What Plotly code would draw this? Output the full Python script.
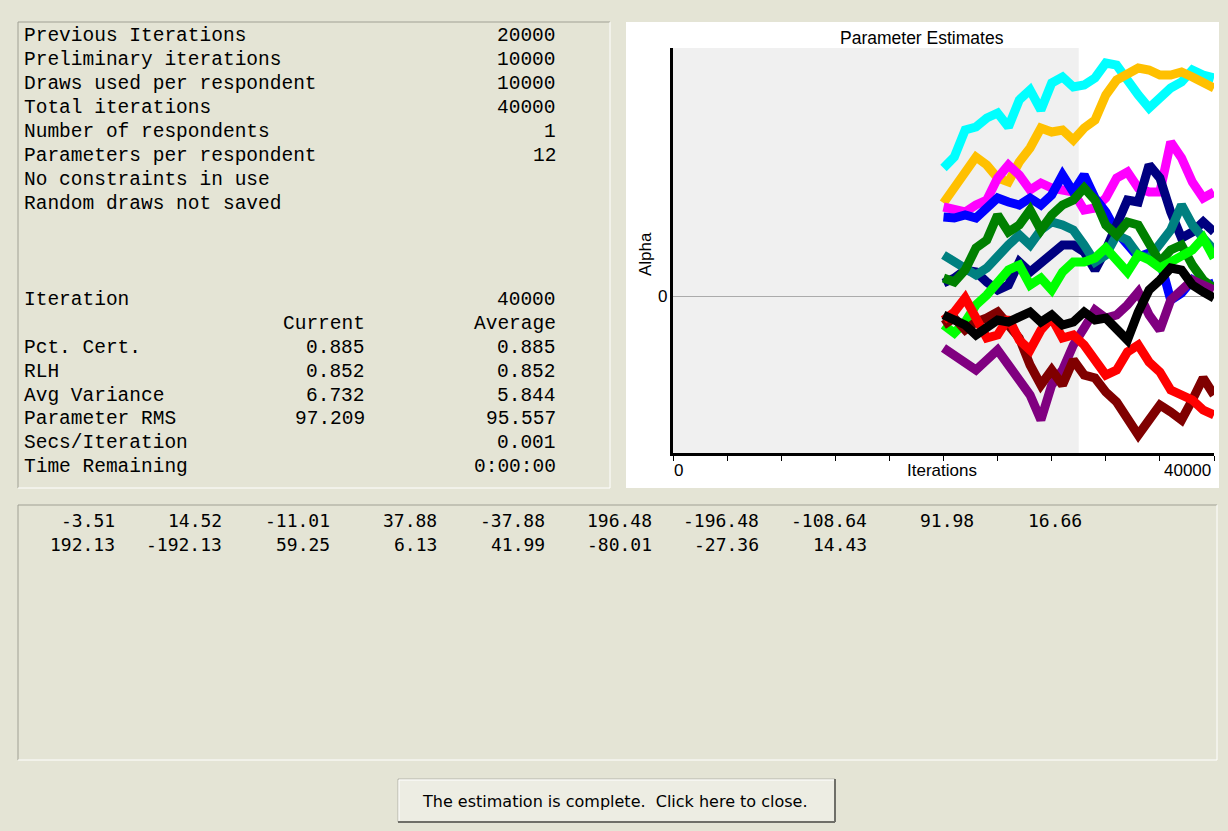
import plotly.graph_objects as go

W, H = 1228, 831

# ---- run summary (left panel) ----
SETTING_LABELS = ["Previous Iterations", "Preliminary iterations", "Draws used per respondent",
                  "Total iterations", "Number of respondents", "Parameters per respondent",
                  "No constraints in use", "Random draws not saved"]
SETTING_VALUES = ["20000", "10000", "10000", "40000", "1", "12", "", ""]

ITERATION_NOW = "40000"
STAT_LABELS = ["Pct. Cert.", "RLH", "Avg Variance", "Parameter RMS", "Secs/Iteration", "Time Remaining"]
STAT_CURRENT = ["0.885", "0.852", "6.732", "97.209", "", ""]
STAT_AVERAGE = ["0.885", "0.852", "5.844", "95.557", "0.001", "0:00:00"]

# ---- current estimates (bottom panel) ----
ESTIMATES = [-3.51, 14.52, -11.01, 37.88, -37.88, 196.48, -196.48, -108.64, 91.98, 16.66,
             192.13, -192.13, 59.25, 6.13, 41.99, -80.01, -27.36, 14.43]

# ---- parameter traces ----
ITERATIONS = [20000, 20800, 21600, 22400, 23200, 24000, 24800, 25600, 26400, 27200,
              28000, 28800, 29600, 30400, 31200, 32000, 32800, 33600, 34400, 35200,
              36000, 36800, 37600, 38400, 39200, 40000]

PARAM_01 = [128, 139, 166, 169, 178, 183, 169, 196, 206, 186, 213, 219, 209, 211, 218, 233, 231, 214, 201, 188, 198, 208, 214, 226, 221, 218]
PARAM_02 = [93, 108, 123, 139, 131, 118, 114, 134, 148, 168, 164, 166, 156, 168, 176, 201, 216, 221, 228, 226, 221, 221, 224, 219, 213, 208]
PARAM_03 = [89, 86, 84, 91, 96, 118, 131, 121, 106, 113, 108, 106, 104, 86, 88, 98, 118, 124, 108, 104, 104, 154, 138, 114, 98, 104]
PARAM_04 = [79, 78, 81, 78, 88, 98, 94, 91, 98, 91, 101, 121, 104, 121, 98, 84, 64, 51, 39, 43, 36, -4, 3, 16, 9, 13]
PARAM_05 = [13, 18, 26, 24, 14, 6, 11, 34, 24, 34, 41, 51, 51, 44, 26, 46, 71, 96, 94, 131, 118, 84, 58, 64, 74, 64]
PARAM_06 = [41, 34, 28, 21, 28, 41, 51, 61, 51, 66, 74, 71, 66, 51, 34, 41, 61, 56, 41, 38, 51, 66, 91, 71, 58, 46]
PARAM_07 = [18, 14, 26, 48, 56, 81, 64, 71, 86, 66, 81, 91, 96, 108, 96, 71, 61, 74, 71, 51, 34, 46, 51, 31, 16, 8]
PARAM_08 = [-29, -37, -26, -9, 1, 14, 26, 31, 11, 18, 6, 24, 34, 34, 38, 48, 36, 24, 41, 36, 28, 34, 38, 46, 58, 38]
PARAM_09 = [-52, -59, -66, -74, -64, -54, -69, -84, -99, -124, -89, -74, -49, -32, -14, -22, -19, -9, 4, -19, -34, -4, 6, 16, 11, 6]
PARAM_10 = [-29, -22, -34, -26, -22, -16, -29, -42, -69, -89, -74, -89, -64, -79, -82, -96, -106, -122, -139, -124, -109, -116, -124, -104, -82, -99]
PARAM_11 = [-24, -16, -2, -22, -42, -39, -22, -44, -54, -34, -22, -42, -39, -49, -66, -79, -74, -56, -49, -66, -76, -94, -99, -104, -114, -119]
PARAM_12 = [-19, -24, -29, -39, -32, -24, -26, -22, -16, -26, -19, -29, -26, -16, -24, -22, -32, -44, -16, 6, 16, 28, 26, 11, 4, -2]

TRACE_COLORS = ["#00FFFF", "#FFC000", "#FF00FF", "#0000FF", "#000080", "#008080",
                "#008000", "#00FF00", "#800080", "#800000", "#FF0000", "#000000"]

BG = "#E4E4D5"
MONO = "Courier New, Liberation Mono, monospace"
SANS = "Arial, Liberation Sans, sans-serif"


def px(x):
    return x / W


def py(y):
    return 1 - y / H


fig = go.Figure()

params = [PARAM_01, PARAM_02, PARAM_03, PARAM_04, PARAM_05, PARAM_06,
          PARAM_07, PARAM_08, PARAM_09, PARAM_10, PARAM_11, PARAM_12]
for values, color in zip(params, TRACE_COLORS):
    fig.add_trace(go.Scatter(x=ITERATIONS, y=values, mode="lines",
                             line=dict(color=color, width=9), hoverinfo="skip",
                             showlegend=False))

shapes = []
annotations = []


def hline(x0, x1, y, color, width=1):
    shapes.append(dict(type="line", xref="paper", yref="paper", x0=px(x0), x1=px(x1),
                       y0=py(y), y1=py(y), line=dict(color=color, width=width)))


def vline(x, y0, y1, color, width=1):
    shapes.append(dict(type="line", xref="paper", yref="paper", x0=px(x), x1=px(x),
                       y0=py(y0), y1=py(y1), line=dict(color=color, width=width)))


def sunken_box(x0, y0, x1, y1):
    hline(x0, x1, y0, "#A0A094")
    vline(x0, y0, y1, "#A0A094")
    hline(x0, x1, y1, "#FFFFFF")
    vline(x1, y0, y1, "#FFFFFF")


def text(x, y, s, anchor="left", size=19.5, family=MONO, **kw):
    annotations.append(dict(xref="paper", yref="paper", x=px(x), y=py(y), text=s,
                            showarrow=False, xanchor=anchor, yanchor="middle",
                            font=dict(family=family, size=size, color="#000000"), **kw))


# panels
sunken_box(18, 22, 610, 488)
shapes.append(dict(type="rect", xref="paper", yref="paper", x0=px(626), x1=px(1219),
                   y0=py(488), y1=py(22), fillcolor="#FFFFFF", line=dict(width=0),
                   layer="below"))
sunken_box(18, 505, 1217, 760)

# close button
shapes.append(dict(type="rect", xref="paper", yref="paper", x0=px(398), x1=px(835),
                   y0=py(822), y1=py(779), fillcolor="#EDEDE3",
                   line=dict(color="#B5B5AA", width=1), layer="below"))
hline(399, 834, 780, "#FFFFFF")
vline(399, 780, 821, "#FFFFFF")
hline(398, 835, 822, "#6F6F68", 2)
vline(835, 779, 822, "#6F6F68", 2)
text(615, 801, "The estimation is complete. \u00a0Click here to close.", anchor="center",
     size=16, family="Tahoma, DejaVu Sans, sans-serif")

# preliminary-iterations shading on the chart
shapes.append(dict(type="rect", xref="x", yref="y domain", x0=0, x1=30000, y0=0, y1=1,
                   fillcolor="#F0F0F0", line=dict(width=0), layer="below"))

# left panel text
for i, (lab, val) in enumerate(zip(SETTING_LABELS, SETTING_VALUES)):
    y = 36 + 24 * i
    text(22, y, lab)
    if val:
        text(558, y, val, anchor="right")

text(22, 300, "Iteration")
text(558, 300, ITERATION_NOW, anchor="right")
text(367, 324, "Current", anchor="right")
text(558, 324, "Average", anchor="right")
for i, (lab, cur, avg) in enumerate(zip(STAT_LABELS, STAT_CURRENT, STAT_AVERAGE)):
    y = 348 + 23.8 * i
    text(22, y, lab)
    if cur:
        text(367, y, cur, anchor="right")
    text(558, y, avg, anchor="right")

# bottom panel estimates, ten per row
for i, v in enumerate(ESTIMATES):
    row, col = divmod(i, 10)
    text(117 + 107.4 * col, 520 + 24 * row, f"{v:.2f}", anchor="right", size=18,
         family="DejaVu Sans Mono, Liberation Mono, monospace")

# chart labels
text(922, 38, "Parameter Estimates", anchor="center", size=17.5, family=SANS)
text(678, 471, "0", anchor="center", size=17, family=SANS)
text(942, 471, "Iterations", anchor="center", size=17, family=SANS)
text(1213, 471, "40000", anchor="right", size=17, family=SANS)
text(662, 296, "0", anchor="center", size=17, family=SANS)
text(645, 254, "Alpha", anchor="center", size=17, family=SANS, textangle=-90)

fig.update_layout(
    width=W, height=H,
    margin=dict(l=0, r=0, t=0, b=0),
    paper_bgcolor=BG, plot_bgcolor="#FFFFFF",
    shapes=shapes, annotations=annotations,
    xaxis=dict(domain=[px(673), px(1214)], range=[0, 40000], showgrid=False,
               zeroline=False, showline=True, linecolor="#000000", linewidth=3,
               ticks="outside", ticklen=5, tickwidth=1, tickcolor="#000000",
               tickvals=list(range(0, 40001, 4000)), showticklabels=False),
    yaxis=dict(domain=[py(453), py(48)], range=[-157, 248], showgrid=False,
               zeroline=True, zerolinecolor="#ABABAB", zerolinewidth=1,
               showline=True, linecolor="#000000", linewidth=3,
               ticks="", showticklabels=False),
)

fig.write_html("out.html")
